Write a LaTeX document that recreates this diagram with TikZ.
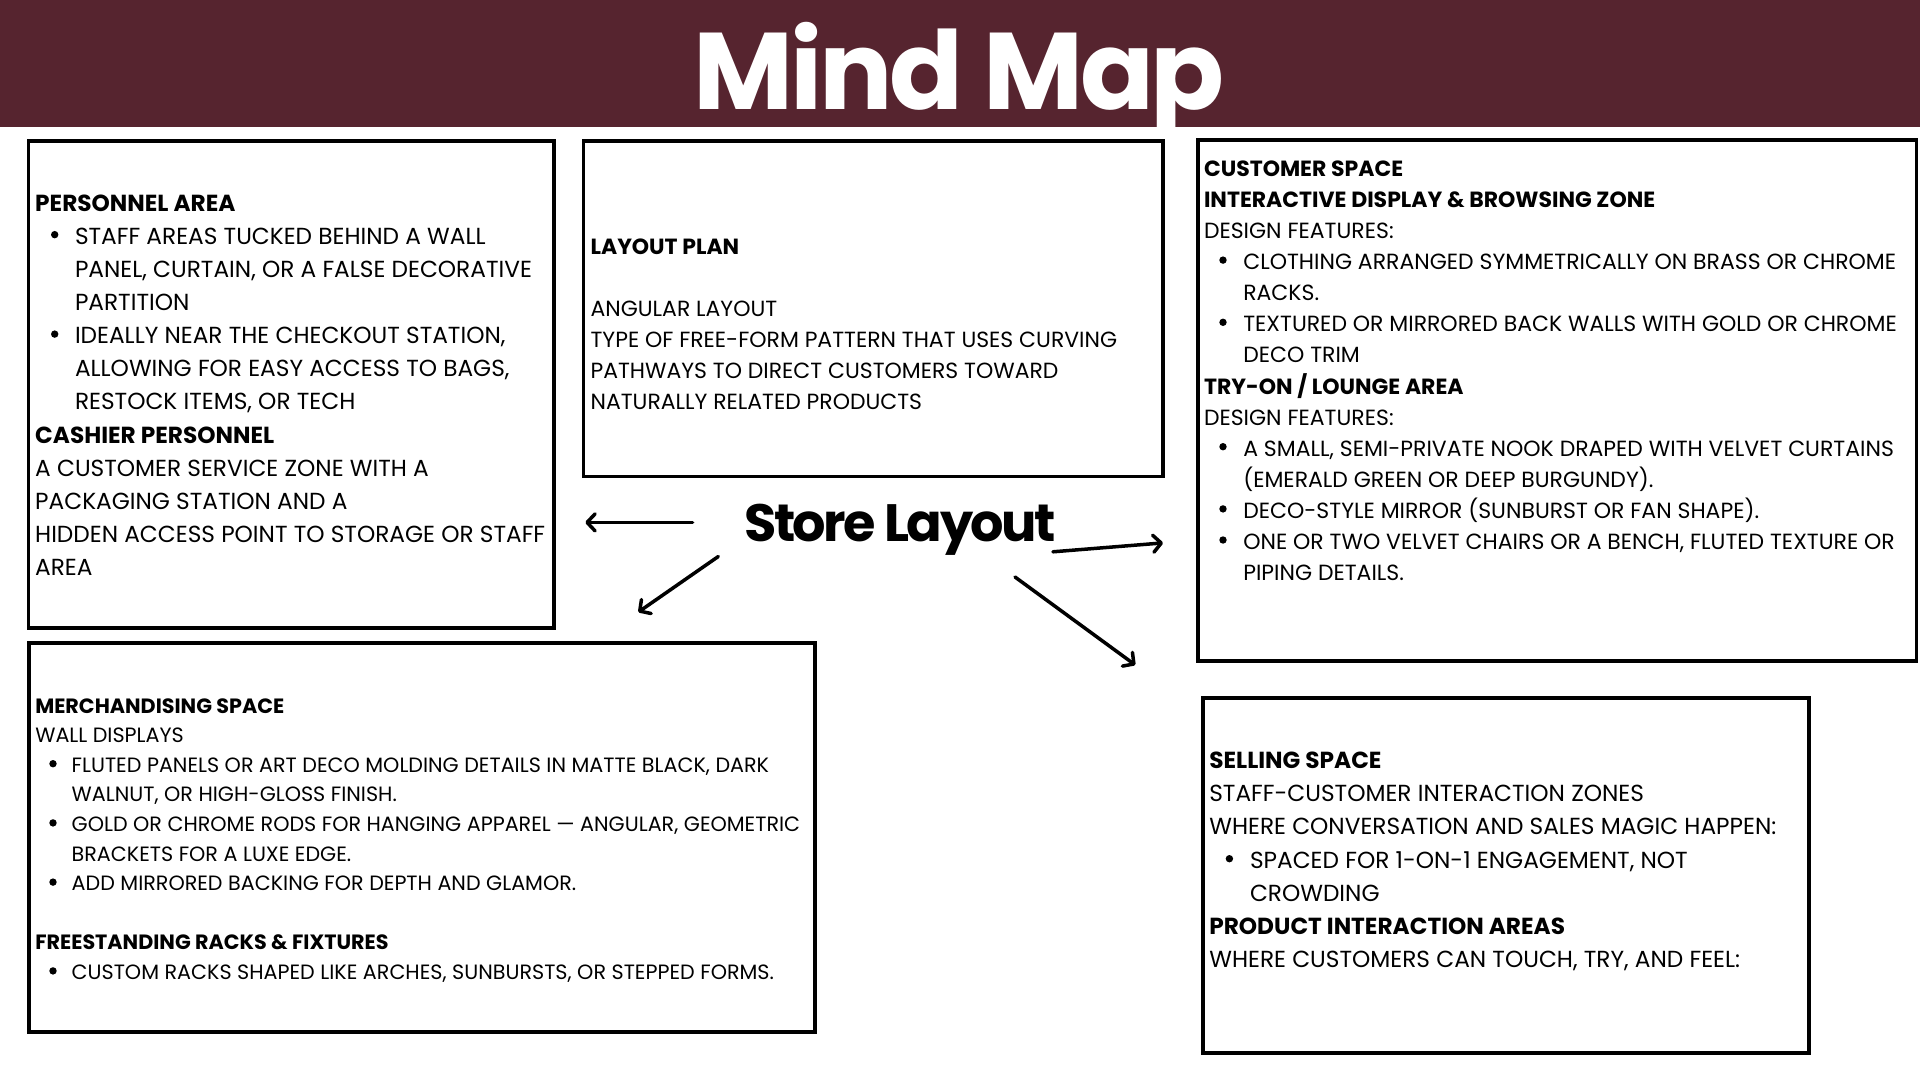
\documentclass[tikz,border=0pt]{standalone}
\usepackage{fontspec}
\setmainfont{Poppins}
\usetikzlibrary{arrows.meta}
\definecolor{barcol}{RGB}{86,36,47}
\newlength\fitw
\newcommand\fitsz[3]{\settowidth\fitw{\fontsize{10pt}{12pt}\selectfont #2}\pgfmathsetmacro#1{10*#3/\fitw}}
% #1 bullet left offset, #2 gap to text, #3 bullet centre height, #4 text
\newcommand\bul[4]{\hspace*{#1pt}\makebox[#2pt][l]{\tikz[baseline=0pt]\fill[black] (3.7pt,#3pt) circle (3.7pt);}#4}
\newcommand\cnt[2]{\hspace*{#1pt}#2}
\newcommand\hd[1]{\textbf{#1}}
\begin{document}
\fitsz\szT{\bfseries\addfontfeature{LetterSpace=-3}Mind Map}{531}%
\fitsz\szS{\bfseries\addfontfeature{LetterSpace=-5}Store Layout}{311}%
\fitsz\szA{HIDDEN ACCESS POINT TO STORAGE OR STAFF}{510}%
\fitsz\szB{TYPE OF FREE-FORM PATTERN THAT USES CURVING}{526.5}%
\fitsz\szC{CLOTHING ARRANGED SYMMETRICALLY ON BRASS OR CHROME}{652.8}%
\fitsz\szD{GOLD OR CHROME RODS FOR HANGING APPAREL — ANGULAR, GEOMETRIC}{728.5}%
\fitsz\szE{WHERE CONVERSATION AND SALES MAGIC HAPPEN:}{567}%
\begin{tikzpicture}[x=1pt,y=-1pt,
  box/.style={draw=black,line width=3.5pt,inner sep=0pt,outer sep=0pt,anchor=north west},
  txt/.style={anchor=base west,inner sep=0pt,outer sep=0pt},
  con/.style={line width=3.5pt,line cap=round,-{Straight Barb[length=8pt,width=17pt,line cap=round,line join=round]}}]
\useasboundingbox (0,0) rectangle (1920,1080);
\fill[white] (0,0) rectangle (1920,1080);
% header
\fill[barcol] (0,0) rectangle (1920,126.5);
\node[anchor=base,inner sep=0pt,text=white,font={\fontsize{\szT pt}{\szT pt}\selectfont\bfseries\addfontfeature{LetterSpace=-3}}] (title) at (959.3,109.3) {Mind Map};
% boxes
\node[box,minimum width=525.3pt,minimum height=487pt] (b1) at (28.7,141) {};
\node[box,minimum width=579.7pt,minimum height=335.6pt] (b2) at (583.3,140.8) {};
\node[box,minimum width=718.5pt,minimum height=521pt] (b3) at (1198,140) {};
\node[box,minimum width=785.8pt,minimum height=389pt] (b4) at (29.2,643) {};
\node[box,minimum width=606pt,minimum height=355pt] (b5) at (1203,698) {};
% box texts
\node[txt,font={\fontsize{\szA pt}{33.15pt}\selectfont}] (t1) at (35.2,211) {\parbox[t]{900pt}{%
\hd{PERSONNEL AREA}\\
\bul{15.8}{24}{9.5}{STAFF AREAS TUCKED BEHIND A WALL}\\
\cnt{39.8}{PANEL, CURTAIN, OR A FALSE DECORATIVE}\\
\cnt{39.8}{PARTITION}\\
\bul{15.8}{24}{9.5}{IDEALLY NEAR THE CHECKOUT STATION,}\\
\cnt{39.8}{ALLOWING FOR EASY ACCESS TO BAGS,}\\
\cnt{39.8}{RESTOCK ITEMS, OR TECH}\\
\hd{CASHIER PERSONNEL}\\
A CUSTOMER SERVICE ZONE WITH A\\
PACKAGING STATION AND A\\
HIDDEN ACCESS POINT TO STORAGE OR STAFF\\
AREA}};
\node[txt,font={\fontsize{\szB pt}{31pt}\selectfont}] (t2) at (590.6,254.5) {\parbox[t]{900pt}{%
\hd{LAYOUT PLAN}\\
\mbox{}\\
ANGULAR LAYOUT\\
TYPE OF FREE-FORM PATTERN THAT USES CURVING\\
PATHWAYS TO DIRECT CUSTOMERS TOWARD\\
NATURALLY RELATED PRODUCTS}};
\node[txt,font={\fontsize{\szC pt}{31.1pt}\selectfont}] (t3) at (1204,176.3) {\parbox[t]{900pt}{%
\hd{CUSTOMER SPACE}\\
\hd{INTERACTIVE DISPLAY \& BROWSING ZONE}\\
DESIGN FEATURES:\\
\bul{15.3}{24}{9.5}{CLOTHING ARRANGED SYMMETRICALLY ON BRASS OR CHROME}\\
\cnt{39.3}{RACKS.}\\
\bul{15.3}{24}{9.5}{TEXTURED OR MIRRORED BACK WALLS WITH GOLD OR CHROME}\\
\cnt{39.3}{DECO TRIM}\\
\hd{TRY-ON / LOUNGE AREA}\\
DESIGN FEATURES:\\
\bul{15.3}{24}{9.5}{A SMALL, SEMI-PRIVATE NOOK DRAPED WITH VELVET CURTAINS}\\
\cnt{39.3}{(EMERALD GREEN OR DEEP BURGUNDY).}\\
\bul{15.3}{24}{9.5}{DECO-STYLE MIRROR (SUNBURST OR FAN SHAPE).}\\
\bul{15.3}{24}{9.5}{ONE OR TWO VELVET CHAIRS OR A BENCH, FLUTED TEXTURE OR}\\
\cnt{39.3}{PIPING DETAILS.}}};
\node[txt,font={\fontsize{\szD pt}{29.6pt}\selectfont}] (t4) at (35.3,713) {\parbox[t]{900pt}{%
\hd{MERCHANDISING SPACE}\\
WALL DISPLAYS\\
\bul{14}{22.4}{8.5}{FLUTED PANELS OR ART DECO MOLDING DETAILS IN MATTE BLACK, DARK}\\
\cnt{36.4}{WALNUT, OR HIGH-GLOSS FINISH.}\\
\bul{14}{22.4}{8.5}{GOLD OR CHROME RODS FOR HANGING APPAREL — ANGULAR, GEOMETRIC}\\
\cnt{36.4}{BRACKETS FOR A LUXE EDGE.}\\
\bul{14}{22.4}{8.5}{ADD MIRRORED BACKING FOR DEPTH AND GLAMOR.}\\
\mbox{}\\
\hd{FREESTANDING RACKS \& FIXTURES}\\
\bul{14}{22.4}{8.5}{CUSTOM RACKS SHAPED LIKE ARCHES, SUNBURSTS, OR STEPPED FORMS.}}};
\node[txt,font={\fontsize{\szE pt}{33.1pt}\selectfont}] (t5) at (1209.3,768.7) {\parbox[t]{900pt}{%
\hd{SELLING SPACE}\\
STAFF-CUSTOMER INTERACTION ZONES\\
WHERE CONVERSATION AND SALES MAGIC HAPPEN:\\
\bul{16.4}{24.3}{9.3}{SPACED FOR 1-ON-1 ENGAGEMENT, NOT}\\
\cnt{40.7}{CROWDING}\\
\hd{PRODUCT INTERACTION AREAS}\\
WHERE CUSTOMERS CAN TOUCH, TRY, AND FEEL:}};
% centre
\node[txt,font={\fontsize{\szS pt}{\szS pt}\selectfont\bfseries\addfontfeature{LetterSpace=-5}}] (center) at (744.5,541) {Store Layout};
% connectors
\coordinate (aLs) at (692.6,522.4);  \coordinate (aLe) at (585.3,522.4);
\coordinate (aDLs) at (718.3,556.5); \coordinate (aDLe) at (638.3,612.1);
\coordinate (aRs) at (1052.9,551.8); \coordinate (aRe) at (1163,542.9);
\coordinate (aDRs) at (1015,577);    \coordinate (aDRe) at (1135.3,665);
\draw[con] (aLs) -- (aLe);
\draw[con] (aDLs) -- (aDLe);
\draw[con] (aRs) -- (aRe);
\draw[con] (aDRs) -- (aDRe);
\end{tikzpicture}
\end{document}
